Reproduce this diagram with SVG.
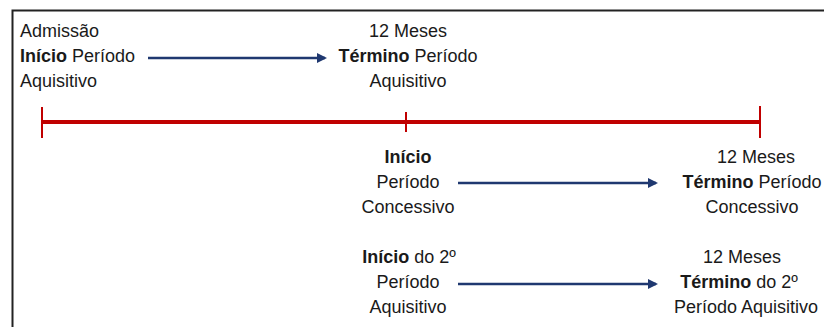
<svg xmlns="http://www.w3.org/2000/svg" width="824" height="327" viewBox="0 0 824 327">
<style>
text{font-family:"Liberation Sans",Arial,sans-serif;font-size:18px;fill:#1a1a1a}
.m{text-anchor:middle}
.b{font-weight:bold}
.arr{stroke:#1f3870;stroke-width:2.5;fill:none}
.red{stroke:#c00000;fill:none}
</style>
<defs>
<marker id="ah" markerWidth="10" markerHeight="10" refX="8" refY="5" orient="auto" markerUnits="userSpaceOnUse">
<path d="M0,0 L10,5 L0,10 Z" fill="#1f3870"/>
</marker>
</defs>
<rect width="824" height="327" fill="#fff"/>
<path d="M12.5,327 V10.5 H824" fill="none" stroke="#222" stroke-width="2"/>
<g id="timeline">
<line class="red" x1="42" y1="122" x2="760" y2="122" stroke-width="4"/>
<line class="red" x1="42" y1="107" x2="42" y2="138" stroke-width="2"/>
<line class="red" x1="406" y1="112" x2="406" y2="132" stroke-width="2"/>
<line class="red" x1="760" y1="106" x2="760" y2="138" stroke-width="2"/>
</g>
<g id="inicio-aquisitivo">
<text x="20" y="37">Admissão</text>
<text x="20" y="62"><tspan class="b">Início</tspan> Período</text>
<text x="20" y="87">Aquisitivo</text>
</g>
<g id="termino-aquisitivo">
<text class="m" x="408" y="37">12 Meses</text>
<text class="m" x="408" y="62"><tspan class="b">Término</tspan> Período</text>
<text class="m" x="408" y="87">Aquisitivo</text>
</g>
<g id="inicio-concessivo">
<text class="m b" x="408" y="163">Início</text>
<text class="m" x="408" y="188">Período</text>
<text class="m" x="408" y="213">Concessivo</text>
</g>
<g id="termino-concessivo">
<text class="m" x="756" y="163">12 Meses</text>
<text class="m" x="752" y="188"><tspan class="b">Término</tspan> Período</text>
<text class="m" x="752" y="213">Concessivo</text>
</g>
<g id="inicio-2-aquisitivo">
<text class="m" x="409" y="263"><tspan class="b">Início</tspan> do 2º</text>
<text class="m" x="408" y="288">Período</text>
<text class="m" x="408" y="313">Aquisitivo</text>
</g>
<g id="termino-2-aquisitivo">
<text class="m" x="742" y="263">12 Meses</text>
<text class="m" x="739" y="288"><tspan class="b">Término</tspan> do 2º</text>
<text class="m" x="746" y="313">Período Aquisitivo</text>
</g>
<g id="connectors">
<line class="arr" x1="148" y1="58" x2="325" y2="58" marker-end="url(#ah)"/>
<line class="arr" x1="458" y1="183" x2="656" y2="183" marker-end="url(#ah)"/>
<line class="arr" x1="458" y1="284" x2="656" y2="284" marker-end="url(#ah)"/>
</g>
</svg>
